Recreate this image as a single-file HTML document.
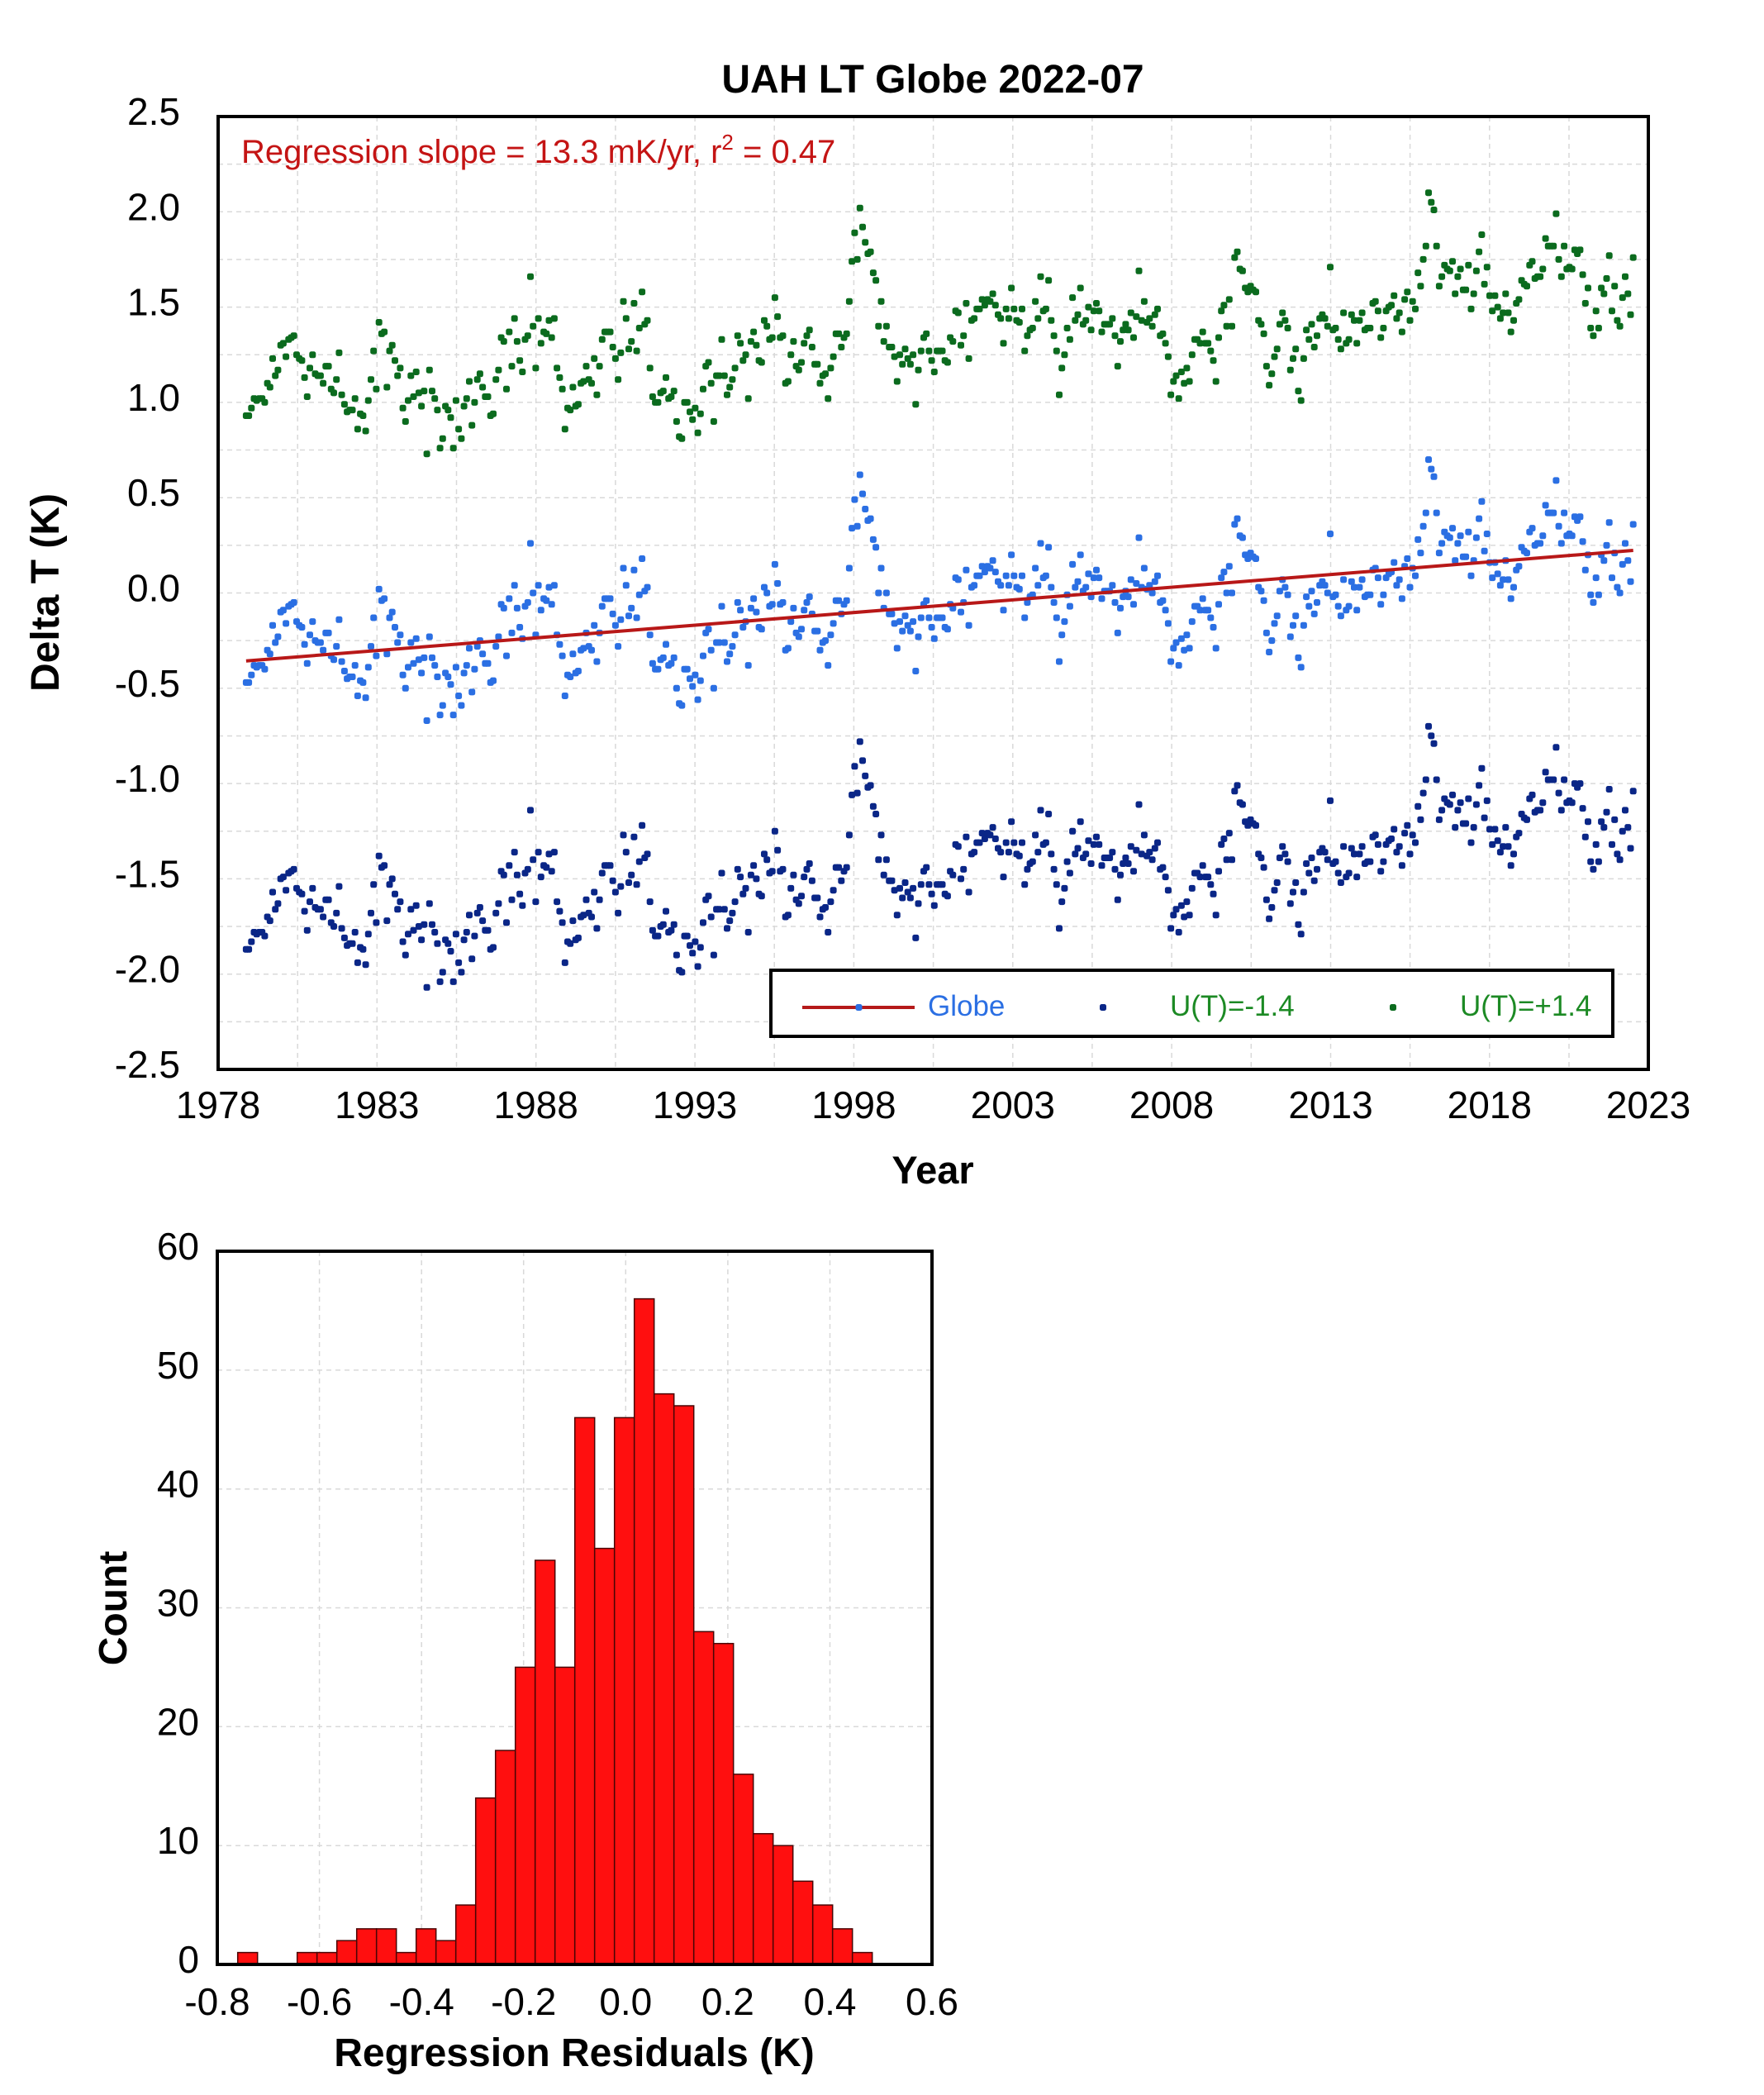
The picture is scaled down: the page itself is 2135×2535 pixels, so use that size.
<!DOCTYPE html>
<html>
<head>
<meta charset="utf-8">
<style>
  html, body { margin:0; padding:0; background:#ffffff; }
  body { width:2135px; height:2535px; overflow:hidden; }
  svg { display:block; }
  text { font-family: "Liberation Sans", Arial, Helvetica, sans-serif; }
</style>
</head>
<body>
<svg id="chart" width="2135" height="2535" viewBox="0 0 2135 2535" xmlns="http://www.w3.org/2000/svg">
  <rect x="0" y="0" width="2135" height="2535" fill="#ffffff"/>

  <!-- ================= TOP PLOT ================= -->
  <text x="1129" y="112" font-size="48" font-weight="bold" text-anchor="middle" fill="#000">UAH LT Globe 2022-07</text>

  <!-- grid -->
  <g stroke="#d9d9d9" stroke-width="1.5" stroke-dasharray="6 5" fill="none">
    <line x1="264" x2="1995" y1="198.65" y2="198.65"/>
    <line x1="264" x2="1995" y1="256.3" y2="256.3"/>
    <line x1="264" x2="1995" y1="313.95" y2="313.95"/>
    <line x1="264" x2="1995" y1="371.6" y2="371.6"/>
    <line x1="264" x2="1995" y1="429.25" y2="429.25"/>
    <line x1="264" x2="1995" y1="486.9" y2="486.9"/>
    <line x1="264" x2="1995" y1="544.55" y2="544.55"/>
    <line x1="264" x2="1995" y1="602.2" y2="602.2"/>
    <line x1="264" x2="1995" y1="659.85" y2="659.85"/>
    <line x1="264" x2="1995" y1="717.5" y2="717.5"/>
    <line x1="264" x2="1995" y1="775.15" y2="775.15"/>
    <line x1="264" x2="1995" y1="832.8" y2="832.8"/>
    <line x1="264" x2="1995" y1="890.45" y2="890.45"/>
    <line x1="264" x2="1995" y1="948.1" y2="948.1"/>
    <line x1="264" x2="1995" y1="1005.75" y2="1005.75"/>
    <line x1="264" x2="1995" y1="1063.4" y2="1063.4"/>
    <line x1="264" x2="1995" y1="1121.05" y2="1121.05"/>
    <line x1="264" x2="1995" y1="1178.7" y2="1178.7"/>
    <line x1="264" x2="1995" y1="1236.35" y2="1236.35"/>

    <line y1="141" y2="1294" x1="360.2" x2="360.2"/>
    <line y1="141" y2="1294" x1="456.3" x2="456.3"/>
    <line y1="141" y2="1294" x1="552.5" x2="552.5"/>
    <line y1="141" y2="1294" x1="648.7" x2="648.7"/>
    <line y1="141" y2="1294" x1="744.9" x2="744.9"/>
    <line y1="141" y2="1294" x1="841.1" x2="841.1"/>
    <line y1="141" y2="1294" x1="937.2" x2="937.2"/>
    <line y1="141" y2="1294" x1="1033.4" x2="1033.4"/>
    <line y1="141" y2="1294" x1="1129.6" x2="1129.6"/>
    <line y1="141" y2="1294" x1="1225.8" x2="1225.8"/>
    <line y1="141" y2="1294" x1="1321.9" x2="1321.9"/>
    <line y1="141" y2="1294" x1="1418.1" x2="1418.1"/>
    <line y1="141" y2="1294" x1="1514.3" x2="1514.3"/>
    <line y1="141" y2="1294" x1="1610.5" x2="1610.5"/>
    <line y1="141" y2="1294" x1="1706.6" x2="1706.6"/>
    <line y1="141" y2="1294" x1="1802.8" x2="1802.8"/>
    <line y1="141" y2="1294" x1="1899.0" x2="1899.0"/>
  </g>

  <!-- data points (generated) -->
  <g id="pts"></g>

  <!-- regression line -->
  <line id="regline" x1="297" y1="799.8" x2="1975" y2="666.4" stroke="#b81818" stroke-width="4"/>

  <!-- annotation -->
  <text x="292" y="197" font-size="40" fill="#c41414">Regression slope = 13.3 mK/yr, r<tspan font-size="26" dy="-16">2</tspan><tspan dy="16"> = 0.47</tspan></text>

  <!-- legend -->
  <rect x="933" y="1174" width="1019" height="80" fill="#ffffff" stroke="#000" stroke-width="4"/>
  <line x1="971" y1="1219" x2="1107" y2="1219" stroke="#b51a1a" stroke-width="4"/>
  <rect x="1035.5" y="1215" width="8" height="8" rx="2.5" fill="#2b6fe3"/>
  <text x="1123" y="1229" font-size="35" fill="#2b6fe3">Globe</text>
  <rect x="1331" y="1215" width="8" height="8" rx="2.5" fill="#0a2687"/>
  <text x="1416" y="1229" font-size="35" fill="#1c8a24">U(T)=-1.4</text>
  <rect x="1682" y="1215" width="8" height="8" rx="2.5" fill="#0b6b1e"/>
  <text x="1767" y="1229" font-size="35" fill="#1c8a24">U(T)=+1.4</text>

  <!-- frame -->
  <rect x="264" y="141" width="1731" height="1153" fill="none" stroke="#000" stroke-width="4"/>

  <!-- y tick labels -->
  <g font-size="46" text-anchor="end" fill="#000">
    <text x="218" y="151">2.5</text>
    <text x="218" y="266.3">2.0</text>
    <text x="218" y="381.6">1.5</text>
    <text x="218" y="496.9">1.0</text>
    <text x="218" y="612.2">0.5</text>
    <text x="218" y="727.5">0.0</text>
    <text x="218" y="842.8">-0.5</text>
    <text x="218" y="958.1">-1.0</text>
    <text x="218" y="1073.4">-1.5</text>
    <text x="218" y="1188.7">-2.0</text>
    <text x="218" y="1304">-2.5</text>
  </g>
  <!-- x tick labels -->
  <g font-size="46" text-anchor="middle" fill="#000">
    <text x="264" y="1353">1978</text>
    <text x="456.3" y="1353">1983</text>
    <text x="648.7" y="1353">1988</text>
    <text x="841.1" y="1353">1993</text>
    <text x="1033.4" y="1353">1998</text>
    <text x="1225.8" y="1353">2003</text>
    <text x="1418.1" y="1353">2008</text>
    <text x="1610.5" y="1353">2013</text>
    <text x="1802.8" y="1353">2018</text>
    <text x="1995" y="1353">2023</text>
  </g>
  <text x="1129" y="1432" font-size="47" font-weight="bold" text-anchor="middle">Year</text>
  <text transform="translate(71,717) rotate(-90)" font-size="48" font-weight="bold" text-anchor="middle">Delta T (K)</text>

  <!-- ================= HISTOGRAM ================= -->
  <g stroke="#d9d9d9" stroke-width="1.5" stroke-dasharray="6 5" fill="none">
    <line x1="263" x2="1128" y1="2233.2" y2="2233.2"/>
    <line x1="263" x2="1128" y1="2089.3" y2="2089.3"/>
    <line x1="263" x2="1128" y1="1945.5" y2="1945.5"/>
    <line x1="263" x2="1128" y1="1801.7" y2="1801.7"/>
    <line x1="263" x2="1128" y1="1657.9" y2="1657.9"/>
    <line y1="1514" y2="2377" x1="386.6" x2="386.6"/>
    <line y1="1514" y2="2377" x1="510.2" x2="510.2"/>
    <line y1="1514" y2="2377" x1="633.7" x2="633.7"/>
    <line y1="1514" y2="2377" x1="757.3" x2="757.3"/>
    <line y1="1514" y2="2377" x1="880.9" x2="880.9"/>
    <line y1="1514" y2="2377" x1="1004.5" x2="1004.5"/>
  </g>

  <g fill="#ff0f0f" stroke="#4a0505" stroke-width="1.5">
    <rect x="287.7" y="2362.6" width="24" height="14.4"/>
    <rect x="359.7" y="2362.6" width="24" height="14.4"/>
    <rect x="383.7" y="2362.6" width="24" height="14.4"/>
    <rect x="407.7" y="2348.2" width="24" height="28.8"/>
    <rect x="431.7" y="2333.9" width="24" height="43.1"/>
    <rect x="455.7" y="2333.9" width="24" height="43.1"/>
    <rect x="479.7" y="2362.6" width="24" height="14.4"/>
    <rect x="503.7" y="2333.9" width="24" height="43.1"/>
    <rect x="527.7" y="2348.2" width="24" height="28.8"/>
    <rect x="551.7" y="2305.1" width="24" height="71.9"/>
    <rect x="575.7" y="2175.6" width="24" height="201.4"/>
    <rect x="599.7" y="2118.1" width="24" height="258.9"/>
    <rect x="623.7" y="2017.4" width="24" height="359.6"/>
    <rect x="647.7" y="1888.0" width="24" height="489.0"/>
    <rect x="671.7" y="2017.4" width="24" height="359.6"/>
    <rect x="695.7" y="1715.4" width="24" height="661.6"/>
    <rect x="719.7" y="1873.6" width="24" height="503.4"/>
    <rect x="743.7" y="1715.4" width="24" height="661.6"/>
    <rect x="767.7" y="1571.6" width="24" height="805.4"/>
    <rect x="791.7" y="1686.6" width="24" height="690.4"/>
    <rect x="815.7" y="1701.0" width="24" height="676.0"/>
    <rect x="839.7" y="1974.3" width="24" height="402.7"/>
    <rect x="863.7" y="1988.7" width="24" height="388.3"/>
    <rect x="887.7" y="2146.9" width="24" height="230.1"/>
    <rect x="911.7" y="2218.8" width="24" height="158.2"/>
    <rect x="935.7" y="2233.2" width="24" height="143.8"/>
    <rect x="959.7" y="2276.3" width="24" height="100.7"/>
    <rect x="983.7" y="2305.1" width="24" height="71.9"/>
    <rect x="1007.7" y="2333.9" width="24" height="43.1"/>
    <rect x="1031.7" y="2362.6" width="24" height="14.4"/>
  </g>

  <rect x="263" y="1514" width="865" height="863" fill="none" stroke="#000" stroke-width="4"/>

  <g font-size="46" text-anchor="end" fill="#000">
    <text x="241" y="2387">0</text>
    <text x="241" y="2243.2">10</text>
    <text x="241" y="2099.3">20</text>
    <text x="241" y="1955.5">30</text>
    <text x="241" y="1811.7">40</text>
    <text x="241" y="1667.9">50</text>
    <text x="241" y="1524">60</text>
  </g>
  <g font-size="46" text-anchor="middle" fill="#000">
    <text x="263" y="2438">-0.8</text>
    <text x="386.6" y="2438">-0.6</text>
    <text x="510.2" y="2438">-0.4</text>
    <text x="633.7" y="2438">-0.2</text>
    <text x="757.3" y="2438">0.0</text>
    <text x="880.9" y="2438">0.2</text>
    <text x="1004.5" y="2438">0.4</text>
    <text x="1128" y="2438">0.6</text>
  </g>
  <text x="695" y="2500" font-size="48" font-weight="bold" text-anchor="middle">Regression Residuals (K)</text>
  <text transform="translate(153,1946) rotate(-90)" font-size="48" font-weight="bold" text-anchor="middle">Count</text>
</svg>

<script>
(function(){
  var D = [
  -0.47,-0.47,-0.43,-0.38,-0.39,-0.38,-0.38,-0.40,-0.30,-0.32,-0.17,-0.26,
  -0.23,-0.10,-0.09,-0.16,-0.07,-0.06,-0.05,-0.15,-0.17,-0.18,-0.27,-0.37,
  -0.22,-0.15,-0.25,-0.26,-0.26,-0.30,-0.21,-0.21,-0.33,-0.35,-0.28,-0.14,
  -0.36,-0.41,-0.45,-0.44,-0.44,-0.38,-0.54,-0.46,-0.47,-0.55,-0.39,-0.28,
  -0.13,-0.33,0.02,-0.04,-0.03,-0.32,-0.13,-0.10,-0.18,-0.26,-0.22,-0.43,
  -0.50,-0.39,-0.26,-0.37,-0.24,-0.35,-0.42,-0.34,-0.67,-0.23,-0.34,-0.38,
  -0.44,-0.64,-0.59,-0.42,-0.44,-0.48,-0.64,-0.39,-0.54,-0.59,-0.42,-0.38,
  -0.29,-0.52,-0.40,-0.28,-0.25,-0.32,-0.37,-0.37,-0.47,-0.46,-0.28,-0.23,
  -0.06,-0.08,-0.33,-0.03,-0.21,0.04,-0.08,-0.18,-0.24,-0.07,-0.05,0.26,
  0.00,-0.22,0.04,-0.09,-0.03,-0.04,0.03,-0.06,0.04,-0.22,-0.27,-0.33,
  -0.54,-0.43,-0.44,-0.32,-0.42,-0.41,-0.30,-0.29,-0.21,-0.28,-0.30,-0.17,
  -0.36,-0.21,-0.07,-0.03,-0.03,-0.03,-0.11,-0.17,-0.28,-0.14,0.13,0.04,
  -0.12,-0.08,0.12,-0.13,-0.01,0.18,0.01,0.03,-0.22,-0.37,-0.40,-0.40,
  -0.35,-0.34,-0.27,-0.38,-0.37,-0.34,-0.50,-0.58,-0.59,-0.40,-0.40,-0.45,
  -0.49,-0.43,-0.56,-0.46,-0.33,-0.21,-0.19,-0.30,-0.50,-0.26,-0.26,-0.07,
  -0.26,-0.36,-0.32,-0.28,-0.22,-0.05,-0.09,-0.18,-0.15,-0.38,-0.08,-0.03,
  -0.10,-0.18,-0.19,0.03,0.00,-0.07,-0.06,0.15,0.05,-0.06,-0.05,-0.30,
  -0.29,-0.15,-0.08,-0.21,-0.23,-0.19,-0.09,-0.05,-0.02,-0.11,-0.20,-0.20,
  -0.30,-0.26,-0.25,-0.38,-0.22,-0.16,-0.04,-0.04,-0.11,-0.06,-0.04,0.13,
  0.34,0.49,0.35,0.62,0.52,0.44,0.38,0.39,0.28,0.24,0.00,0.13,
  -0.08,0.00,-0.11,-0.11,-0.16,-0.29,-0.15,-0.20,-0.12,-0.17,-0.20,-0.15,
  -0.41,-0.23,-0.13,-0.06,-0.04,-0.13,-0.18,-0.24,-0.13,-0.13,-0.13,-0.18,
  -0.19,-0.06,-0.08,0.08,0.07,-0.10,-0.05,0.12,-0.17,0.03,0.04,0.09,
  0.09,0.14,0.11,0.14,0.13,0.17,0.11,0.06,0.04,-0.09,0.09,0.04,
  0.20,0.09,0.03,0.02,0.09,-0.13,-0.05,-0.02,-0.01,0.13,0.04,0.26,
  0.08,0.09,0.24,0.03,-0.05,-0.13,-0.36,-0.22,-0.15,-0.01,-0.07,0.15,
  0.03,0.06,0.20,0.01,0.03,0.10,-0.02,0.08,0.12,0.08,-0.03,0.01,
  0.01,0.01,0.04,-0.05,-0.21,-0.08,-0.02,0.01,-0.02,0.07,-0.06,0.05,
  0.29,0.03,0.13,0.02,0.04,0.00,0.06,0.09,-0.05,-0.04,-0.09,-0.16,
  -0.36,-0.29,-0.26,-0.38,-0.24,-0.30,-0.22,-0.29,-0.15,-0.07,-0.07,-0.09,
  -0.03,-0.09,-0.09,-0.13,-0.18,-0.29,-0.06,0.08,0.11,0.00,0.14,0.00,
  0.36,0.39,0.30,0.29,0.20,0.18,0.21,0.19,0.18,0.03,0.01,-0.04,
  -0.21,-0.31,-0.25,-0.16,-0.12,0.01,0.07,0.03,-0.01,-0.23,-0.17,-0.12,
  -0.34,-0.39,-0.17,-0.02,-0.07,0.01,-0.11,-0.05,0.04,0.06,0.04,0.00,
  0.31,-0.02,-0.01,-0.07,-0.12,0.07,-0.09,-0.07,0.06,0.03,-0.09,0.03,
  0.07,-0.02,-0.01,-0.01,0.12,0.13,0.08,-0.06,-0.01,0.08,0.10,0.11,
  0.16,0.04,0.07,-0.03,0.14,0.18,0.03,0.13,0.09,0.28,0.21,0.35,
  0.42,0.70,0.65,0.61,0.42,0.21,0.26,0.32,0.30,0.29,0.34,0.17,
  0.26,0.30,0.19,0.19,0.32,0.09,0.17,0.29,0.39,0.48,0.22,0.31,
  0.16,0.08,0.16,0.10,0.04,0.07,0.17,0.07,-0.03,0.03,0.12,0.14,
  0.24,0.22,0.21,0.32,0.34,0.25,0.26,0.26,0.30,0.46,0.42,0.42,
  0.42,0.59,0.35,0.26,0.42,0.30,0.31,0.30,0.40,0.38,0.40,0.27,
  0.12,0.20,-0.01,-0.05,0.08,-0.01,0.20,0.17,0.25,0.37,0.08,0.21,
  0.03,0.00,0.15,0.26,0.17,0.06,0.36
  ];
  function X(t){ return 264 + (t - 1978) * 38.47; }
  function Y(v){ return 717.5 - v * 230.6; }
  var T0 = 1978.88, T1 = 2022.52;
  var step = (T1 - T0) / (D.length - 1);
  var series = [[1.4,'#0b6b1e'],[-1.4,'#0a2687'],[0,'#2b6fe3']];
  var s = '';
  for (var k = 0; k < series.length; k++) {
    var off = series[k][0], col = series[k][1];
    for (var m = 0; m < D.length; m++) {
      var x = X(T0 + m*step), y = Y(D[m] + off);
      s += '<rect x="' + (x-4).toFixed(1) + '" y="' + (y-4).toFixed(1) +
           '" width="8" height="8" rx="2.5" fill="' + col + '"/>';
    }
  }
  var g = document.getElementById('pts');
  g.innerHTML = s;
  var l = document.getElementById('regline');
  l.setAttribute('x1', X(T0).toFixed(1));
  l.setAttribute('y1', Y(-0.357).toFixed(1));
  l.setAttribute('x2', X(T1).toFixed(1));
  l.setAttribute('y2', Y(-0.357 + 0.0133*(T1 - T0)).toFixed(1));
})();
</script>
</body>
</html>
